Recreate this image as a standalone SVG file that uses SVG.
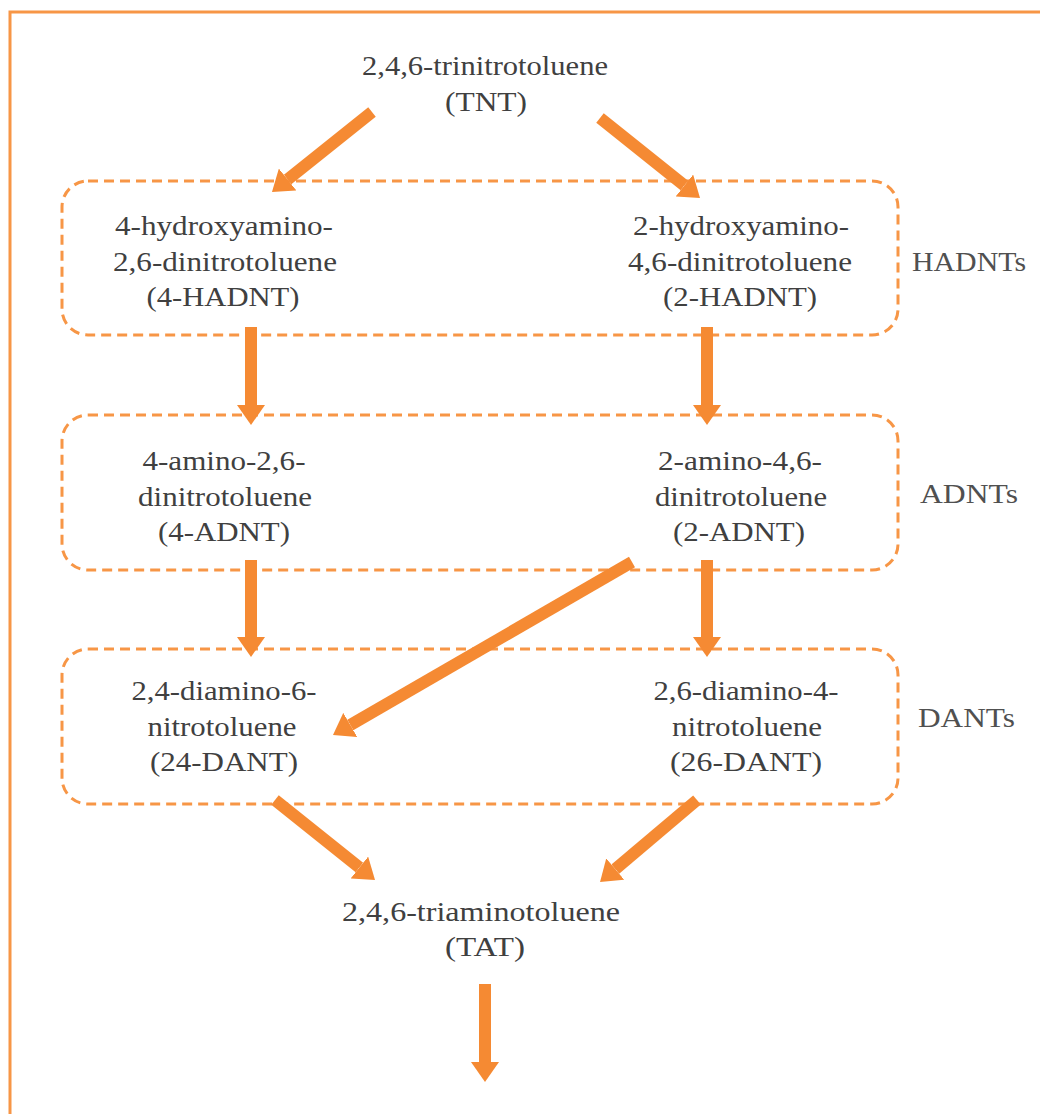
<svg xmlns="http://www.w3.org/2000/svg" width="1040" height="1114" viewBox="0 0 1040 1114">
<style>
text{font-family:"Liberation Serif",Tinos,"Nimbus Roman","Nimbus Roman No9 L",Times,"Noto Serif",FreeSerif,"DejaVu Serif",serif;font-size:27px;fill:#404040}
.t{text-anchor:middle}
.lbl{fill:#505050}
.grp{fill:none;stroke:#F79646;stroke-width:3;stroke-dasharray:10 6}
.ar{stroke:#F58A33;stroke-width:12;fill:none}
</style>
<defs>
<marker id="ah" markerUnits="userSpaceOnUse" markerWidth="20" markerHeight="28" refX="0" refY="14" orient="auto" viewBox="0 0 20 28">
<path d="M0,0 L20,14 L0,28 z" fill="#F58A33"/>
</marker>
</defs>
<rect x="10" y="12" width="1040" height="1120" fill="#fff" stroke="#F79646" stroke-width="3"/>
<g id="group-hadnts">
<rect class="grp" x="62" y="181" width="836" height="154" rx="26"/>
<text class="lbl" x="912" y="271" textLength="114" lengthAdjust="spacingAndGlyphs">HADNTs</text>
</g>
<g id="group-adnts">
<rect class="grp" x="62" y="415" width="836" height="155" rx="26"/>
<text class="lbl" x="920" y="503" textLength="98" lengthAdjust="spacingAndGlyphs">ADNTs</text>
</g>
<g id="group-dants">
<rect class="grp" x="62" y="649" width="836" height="155" rx="26"/>
<text class="lbl" x="918" y="727" textLength="97" lengthAdjust="spacingAndGlyphs">DANTs</text>
</g>
<g id="tnt">
<text class="t" x="485" y="75" textLength="246" lengthAdjust="spacingAndGlyphs">2,4,6-trinitrotoluene</text>
<text class="t" x="486" y="111" textLength="82" lengthAdjust="spacingAndGlyphs">(TNT)</text>
</g>
<g id="hadnt4">
<text class="t" x="224" y="235" textLength="218" lengthAdjust="spacingAndGlyphs">4-hydroxyamino-</text>
<text class="t" x="225" y="271" textLength="224" lengthAdjust="spacingAndGlyphs">2,6-dinitrotoluene</text>
<text class="t" x="223" y="306" textLength="153" lengthAdjust="spacingAndGlyphs">(4-HADNT)</text>
</g>
<g id="hadnt2">
<text class="t" x="741" y="235" textLength="216" lengthAdjust="spacingAndGlyphs">2-hydroxyamino-</text>
<text class="t" x="740" y="271" textLength="224" lengthAdjust="spacingAndGlyphs">4,6-dinitrotoluene</text>
<text class="t" x="740" y="306" textLength="154" lengthAdjust="spacingAndGlyphs">(2-HADNT)</text>
</g>
<g id="adnt4">
<text class="t" x="224" y="470" textLength="163" lengthAdjust="spacingAndGlyphs">4-amino-2,6-</text>
<text class="t" x="225" y="506" textLength="174" lengthAdjust="spacingAndGlyphs">dinitrotoluene</text>
<text class="t" x="224" y="541" textLength="132" lengthAdjust="spacingAndGlyphs">(4-ADNT)</text>
</g>
<g id="adnt2">
<text class="t" x="740" y="470" textLength="164" lengthAdjust="spacingAndGlyphs">2-amino-4,6-</text>
<text class="t" x="741" y="506" textLength="172" lengthAdjust="spacingAndGlyphs">dinitrotoluene</text>
<text class="t" x="739" y="541" textLength="132" lengthAdjust="spacingAndGlyphs">(2-ADNT)</text>
</g>
<g id="dant24">
<text class="t" x="224" y="700" textLength="185" lengthAdjust="spacingAndGlyphs">2,4-diamino-6-</text>
<text class="t" x="222" y="736" textLength="149" lengthAdjust="spacingAndGlyphs">nitrotoluene</text>
<text class="t" x="224" y="771" textLength="148" lengthAdjust="spacingAndGlyphs">(24-DANT)</text>
</g>
<g id="dant26">
<text class="t" x="746" y="700" textLength="185" lengthAdjust="spacingAndGlyphs">2,6-diamino-4-</text>
<text class="t" x="747" y="736" textLength="150" lengthAdjust="spacingAndGlyphs">nitrotoluene</text>
<text class="t" x="746" y="771" textLength="152" lengthAdjust="spacingAndGlyphs">(26-DANT)</text>
</g>
<g id="tat">
<text class="t" x="481" y="921" textLength="278" lengthAdjust="spacingAndGlyphs">2,4,6-triaminotoluene</text>
<text class="t" x="485" y="956" textLength="80" lengthAdjust="spacingAndGlyphs">(TAT)</text>
</g>
<g id="connectors">
<line class="ar" x1="372" y1="112" x2="287.6" y2="179.5" marker-end="url(#ah)"/>
<line class="ar" x1="600" y1="118" x2="684.4" y2="185.5" marker-end="url(#ah)"/>
<line class="ar" x1="251" y1="327" x2="251" y2="405" marker-end="url(#ah)"/>
<line class="ar" x1="707" y1="327" x2="707" y2="405" marker-end="url(#ah)"/>
<line class="ar" x1="251" y1="560" x2="251" y2="637" marker-end="url(#ah)"/>
<line class="ar" x1="707" y1="560" x2="707" y2="637" marker-end="url(#ah)"/>
<line class="ar" x1="632" y1="562" x2="350.3" y2="725" marker-end="url(#ah)"/>
<line class="ar" x1="275" y1="800" x2="359.4" y2="867.5" marker-end="url(#ah)"/>
<line class="ar" x1="697" y1="800" x2="615.3" y2="869.1" marker-end="url(#ah)"/>
<line class="ar" x1="485" y1="984" x2="485" y2="1062" marker-end="url(#ah)"/>
</g>
</svg>
